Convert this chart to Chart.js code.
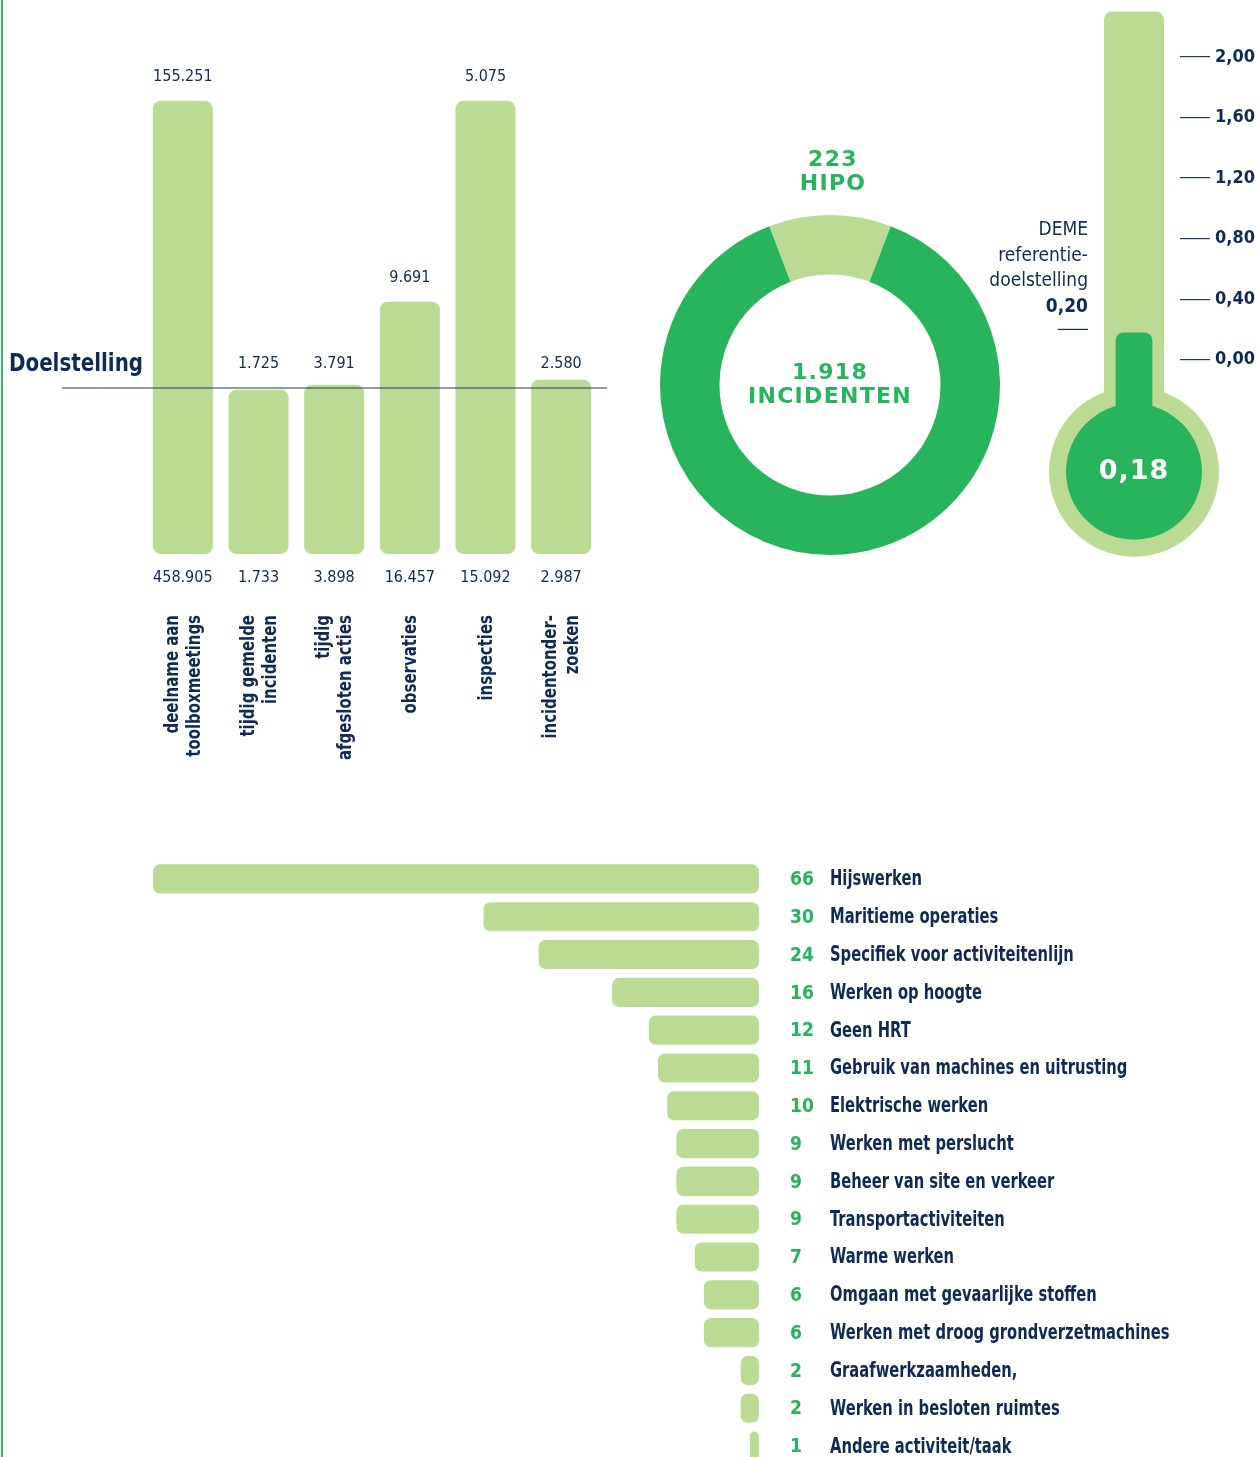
<!DOCTYPE html>
<html><head><meta charset="utf-8">
<script src="https://cdn.jsdelivr.net/npm/chart.js@4/dist/chart.umd.min.js"></script>
<style>
html,body{margin:0;padding:0;width:1258px;height:1457px;overflow:hidden;background:#fff;}
.box{position:absolute;}
#edge{position:absolute;left:1px;top:0;width:2px;height:1457px;background:#3cb868;}
</style></head><body>
<div id="edge"></div>
<div class="box" style="left:0;top:0;width:640px;height:780px"><canvas id="kpi"></canvas></div>
<div class="box" style="left:650px;top:130px;width:360px;height:440px"><canvas id="donut"></canvas></div>
<div class="box" style="left:985px;top:0;width:273px;height:570px"><canvas id="thermo"></canvas></div>
<div class="box" style="left:0;top:855px;width:1258px;height:620px"><canvas id="hipo"></canvas></div>
<script>
// ---------- data ----------
const kpiCategories = [['deelname aan','toolboxmeetings'],['tijdig gemelde','incidenten'],['tijdig','afgesloten acties'],['observaties'],['inspecties'],['incidentonder-','zoeken']];
const kpiTargets = [155251, 1725, 3791, 9691, 5075, 2580];
const kpiActuals = [458905, 1733, 3898, 16457, 15092, 2987];
const kpiBarPercent = [273, 99, 102, 152, 273, 105]; // bar height as drawn, % of doelstelling
const doelstellingLevel = 100;
const doelstellingLabel = 'Doelstelling';

const incidentsTotal = 1918;
const hipoTotal = 223;
const incidentsLabel = 'INCIDENTEN';
const hipoLabel = 'HIPO';

const ltifTicks = [0, 0.4, 0.8, 1.2, 1.6, 2.0];
const ltifValue = 0.18;
const ltifTarget = 0.20;
const ltifTargetLines = ['DEME', 'referentie-', 'doelstelling'];

const hipoActivities = ['Hijswerken','Maritieme operaties','Specifiek voor activiteitenlijn','Werken op hoogte','Geen HRT','Gebruik van machines en uitrusting','Elektrische werken','Werken met perslucht','Beheer van site en verkeer','Transportactiviteiten','Warme werken','Omgaan met gevaarlijke stoffen','Werken met droog grondverzetmachines','Graafwerkzaamheden,','Werken in besloten ruimtes','Andere activiteit/taak'];
const hipoCounts = [66,30,24,16,12,11,10,9,9,9,7,6,6,2,2,1];

// ---------- style ----------
const LIGHT = '#bbdb94';
const DARK = '#28b45d';
const NAVY = '#0f2a55';
const NARROW = "'Liberation Sans Narrow','DejaVu Sans Condensed','Roboto Condensed',Roboto,sans-serif";
const WIDE = "'DejaVu Sans',Verdana,sans-serif";
const nl = v => v.toLocaleString('nl-NL');
Chart.defaults.animation = false;
Chart.defaults.plugins.legend.display = false;
Chart.defaults.plugins.tooltip.enabled = false;

function scaledText(ctx, text, x, y, sx, align) {
  ctx.save(); ctx.translate(x, y); ctx.scale(sx, 1); ctx.textAlign = align; ctx.fillText(text, 0, 0); ctx.restore();
}

// ---------- KPI bars ----------
const kpiPlugin = {
  id: 'kpiLabels',
  afterDatasetsDraw(chart) {
    const {ctx, chartArea: ca, scales: {y}} = chart;
    const lineY = y.getPixelForValue(doelstellingLevel);
    ctx.save();
    ctx.strokeStyle = '#1e3a66'; ctx.lineWidth = 1.2;
    ctx.beginPath(); ctx.moveTo(ca.left - 83, lineY); ctx.lineTo(ca.right + 8, lineY); ctx.stroke();
    ctx.fillStyle = NAVY; ctx.font = "bold 24px " + NARROW; ctx.textBaseline = 'middle';
    scaledText(ctx, doelstellingLabel, 9, lineY - 23, 0.92, 'left');
    const meta = chart.getDatasetMeta(0);
    meta.data.forEach((bar, i) => {
      ctx.font = "16px " + NARROW; ctx.textAlign = 'center'; ctx.textBaseline = 'middle'; ctx.fillStyle = NAVY;
      const top = bar.y;
      const ty = (top > lineY - 20 ? lineY : top) - 24;
      ctx.fillText(nl(kpiTargets[i]), bar.x, ty);
      ctx.fillText(nl(kpiActuals[i]), bar.x, bar.base + 24);
      const lines = kpiCategories[i];
      ctx.save();
      ctx.translate(bar.x, bar.base + 61);
      ctx.rotate(-Math.PI / 2);
      ctx.font = "bold 20px " + NARROW;
      const lh = 22;
      lines.forEach((t, k) => scaledText(ctx, t, 0, (k - (lines.length - 1) / 2) * lh + 1, 0.83, 'right'));
      ctx.restore();
    });
    ctx.restore();
  }
};
new Chart(document.getElementById('kpi'), {
  type: 'bar',
  data: { labels: kpiCategories.map(c => c.join(' ')), datasets: [{ data: kpiBarPercent, backgroundColor: LIGHT, borderRadius: 8, borderSkipped: false, categoryPercentage: 1, barPercentage: 0.794 }] },
  options: {
    responsive: true, maintainAspectRatio: false,
    layout: { padding: { left: 145, right: 41, top: 56, bottom: 226 } },
    scales: { x: { display: false }, y: { display: false, min: 0, max: 300 } }
  },
  plugins: [kpiPlugin]
});

// ---------- donut ----------
const hipoShare = hipoTotal / incidentsTotal * 360;
const donutPlugin = {
  id: 'donutText',
  afterDraw(chart) {
    const {ctx} = chart; const arc = chart.getDatasetMeta(0).data[0];
    const cx = arc.x, cy = arc.y;
    ctx.save(); ctx.fillStyle = DARK; ctx.textAlign = 'center'; ctx.textBaseline = 'middle';
    ctx.font = "bold 22px " + WIDE;
    ctx.letterSpacing = '1.3px';
    ctx.fillText(nl(incidentsTotal), cx, cy - 12);
    ctx.fillText(incidentsLabel, cx, cy + 12);
    ctx.fillText(String(hipoTotal), cx + 3, cy - 225);
    ctx.fillText(hipoLabel, cx + 3, cy - 201);
    ctx.restore();
  }
};
new Chart(document.getElementById('donut'), {
  type: 'doughnut',
  data: { labels: [hipoLabel, 'overige incidenten'], datasets: [{ data: [hipoTotal, incidentsTotal - hipoTotal], backgroundColor: [LIGHT, DARK], borderWidth: 0 }] },
  options: { responsive: true, maintainAspectRatio: false, radius: 170, cutout: '65%', rotation: -hipoShare / 2,
    layout: { padding: { top: 75, bottom: 5 } } },
  plugins: [donutPlugin]
});

// ---------- thermometer ----------
const thermoPlugin = {
  id: 'thermo',
  beforeDatasetsDraw(chart) {
    const {ctx, scales: {y}} = chart; const bar = chart.getDatasetMeta(0).data[0];
    const cy = y.getPixelForValue(0) + 112;
    ctx.save();
    ctx.fillStyle = LIGHT; ctx.beginPath(); ctx.arc(bar.x, cy, 85, 0, Math.PI * 2); ctx.fill();
    ctx.fillStyle = DARK; ctx.beginPath(); ctx.arc(bar.x, cy, 68, 0, Math.PI * 2); ctx.fill();
    ctx.restore();
  },
  afterDraw(chart) {
    const {ctx, chartArea: ca, scales: {y}} = chart; const bar = chart.getDatasetMeta(0).data[0];
    const cy = y.getPixelForValue(0) + 112;
    ctx.save();
    ctx.fillStyle = '#fff'; ctx.textAlign = 'center'; ctx.textBaseline = 'middle';
    ctx.font = "bold 27px " + WIDE; ctx.letterSpacing = '1px';
    ctx.fillText(ltifValue.toFixed(2).replace('.', ','), bar.x, cy);
    ctx.letterSpacing = '0px';
    const ty = y.getPixelForValue(ltifTarget);
    ctx.strokeStyle = NAVY; ctx.lineWidth = 1.2;
    ctx.beginPath(); ctx.moveTo(ca.left - 30, ty); ctx.lineTo(ca.left, ty); ctx.stroke();
    ctx.fillStyle = NAVY; ctx.textAlign = 'right';
    ctx.font = "19px " + NARROW;
    ltifTargetLines.forEach((t, k) => ctx.fillText(t, ca.left, ty - 99 + k * 25.5));
    ctx.font = "bold 19px " + NARROW;
    ctx.fillText(ltifTarget.toFixed(2).replace('.', ','), ca.left, ty - 22);
    ctx.restore();
  }
};
new Chart(document.getElementById('thermo'), {
  type: 'bar',
  data: { labels: ['LTIF'], datasets: [
    { data: [[-0.277, 2.3]], backgroundColor: LIGHT, grouped: false, order: 1, categoryPercentage: 1, barPercentage: 0.652,
      borderSkipped: false, borderRadius: { topLeft: 8, topRight: 8, bottomLeft: 0, bottomRight: 0 } },
    { data: [[-0.74, ltifValue]], backgroundColor: DARK, grouped: false, order: 0, categoryPercentage: 1, barPercentage: 0.40,
      borderSkipped: false, borderRadius: { topLeft: 8, topRight: 8, bottomLeft: 0, bottomRight: 0 } }
  ] },
  options: {
    responsive: true, maintainAspectRatio: false,
    layout: { padding: { left: 103, right: 0, top: 4, bottom: 6 } },
    scales: {
      x: { display: false },
      y: { position: 'right', min: -1.35, max: 2.35,
        afterBuildTicks: s => { s.ticks = ltifTicks.map(v => ({ value: v })); },
        afterFit: s => { s.width = 78; s.paddingTop = 0; s.paddingBottom = 0; },
        border: { display: false },
        grid: { drawOnChartArea: false, drawTicks: true, tickLength: 30, color: '#1e3a66', lineWidth: 1.2 },
        ticks: { padding: 5, color: NAVY, font: { family: NARROW, size: 18, weight: 'bold' },
          callback: v => Number(v).toFixed(2).replace('.', ',') } }
    }
  },
  plugins: [thermoPlugin]
});

// ---------- HIPO per activity ----------
const hipoPlugin = {
  id: 'hipoLabels',
  afterDraw(chart) {
    const {ctx, chartArea: ca} = chart;
    ctx.save(); ctx.textBaseline = 'middle';
    chart.getDatasetMeta(0).data.forEach((bar, i) => {
      ctx.fillStyle = DARK; ctx.font = "bold 20px " + WIDE;
      scaledText(ctx, String(hipoCounts[i]), ca.right + 31, bar.y + 1, 0.86, 'left');
      ctx.fillStyle = NAVY; ctx.font = "bold 21px " + NARROW;
      scaledText(ctx, hipoActivities[i], ca.right + 71, bar.y + 1, 0.78, 'left');
    });
    ctx.restore();
  }
};
new Chart(document.getElementById('hipo'), {
  type: 'bar',
  data: { labels: hipoActivities, datasets: [{ data: hipoCounts, backgroundColor: LIGHT, borderRadius: 7, borderSkipped: false, categoryPercentage: 1, barPercentage: 0.77 }] },
  options: {
    indexAxis: 'y', responsive: true, maintainAspectRatio: false,
    layout: { padding: { left: 153, right: 499, top: 5, bottom: 10 } },
    scales: { x: { display: false, reverse: true, min: 0, max: 66 }, y: { display: false } }
  },
  plugins: [hipoPlugin]
});
</script>
</body></html>
